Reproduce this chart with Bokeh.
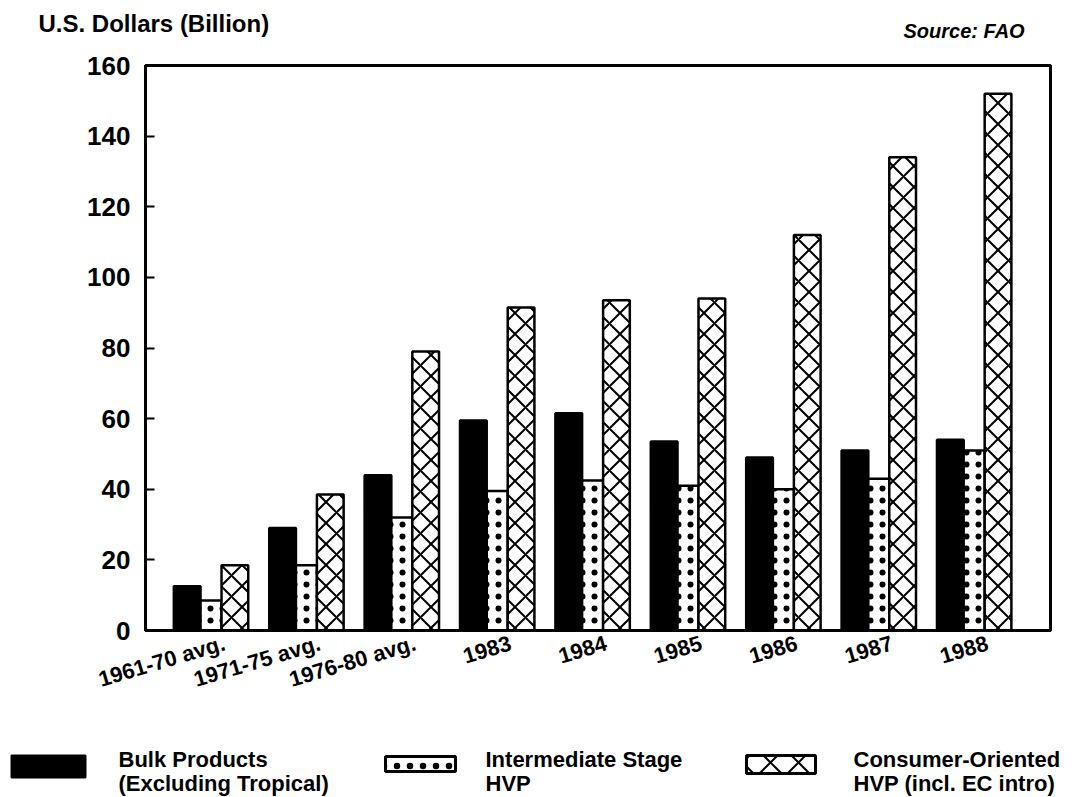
from bokeh.plotting import figure
from bokeh.models import Range1d, FixedTicker
from bokeh.core.properties import value
from bokeh.embed import file_html
from bokeh.resources import INLINE

# ---- data ----
categories = ["1961-70 avg.", "1971-75 avg.", "1976-80 avg.", "1983", "1984",
              "1985", "1986", "1987", "1988"]
bulk = [12.5, 29, 44, 59.5, 61.5, 53.5, 49, 51, 54]
intermediate = [8.5, 18.5, 32, 39.5, 42.5, 41, 40, 43, 51]
consumer = [18.5, 38.5, 79, 91.5, 93.5, 94, 112, 134, 152]
y_ticks = [0, 20, 40, 60, 80, 100, 120, 140, 160]
legend_bulk = ["Bulk Products", "(Excluding Tropical)"]
legend_inter = ["Intermediate Stage", "HVP"]
legend_cons = ["Consumer-Oriented", "HVP (incl. EC intro)"]
y_title = "U.S. Dollars (Billion)"
source_note = "Source: FAO"

FONT = "Liberation Sans"
W = 1092
BL, BR = 145, 42          # left / right border of the plotting frame


def strip(height):
    f = figure(width=W, height=height, x_range=Range1d(0, W),
               y_range=Range1d(height, 0), x_axis_location=None, y_axis_location=None,
               output_backend="svg", toolbar_location=None, min_border=0)
    f.grid.visible = False
    f.outline_line_color = None
    return f


# ---- header ----
hdr = strip(50)
hdr.text(x=[38], y=[23], text=[y_title], text_font=value(FONT), text_font_size="24px",
         text_font_style="bold", text_baseline="middle", text_color="black")
hdr.text(x=[903], y=[30], text=[source_note], text_font=value(FONT), text_font_size="20px",
         text_font_style="bold italic", text_baseline="middle", text_color="black")

# ---- main chart ----
idx = list(range(len(categories)))
p = figure(width=W, height=670, x_range=Range1d(-0.687, 8.80), y_range=Range1d(0, 160),
           output_backend="svg", toolbar_location=None,
           min_border_left=BL, min_border_right=BR, min_border_top=15, min_border_bottom=90)
p.grid.visible = False
p.outline_line_color = "black"
p.outline_line_width = 3

p.vbar(x=[i - 0.25 for i in idx], top=bulk, width=0.28, bottom=0,
       fill_color="black", line_color="black", line_width=2.5)
p.vbar(x=idx, top=intermediate, width=0.22, bottom=0,
       fill_color="white", line_color="black", line_width=2.5,
       hatch_pattern="dot", hatch_color="black", hatch_scale=12, hatch_weight=1.5)
p.vbar(x=[i + 0.25 for i in idx], top=consumer, width=0.28, bottom=0,
       fill_color="white", line_color="black", line_width=2.5,
       hatch_pattern="diagonal_cross", hatch_color="black", hatch_scale=21, hatch_weight=2)

label_ticks = [i + 0.14 for i in idx]
xa = p.xaxis[0]
xa.ticker = FixedTicker(ticks=label_ticks)
xa.major_label_overrides = {t: c for t, c in zip(label_ticks, categories)}
xa.major_tick_line_color = None
xa.minor_tick_line_color = None
xa.axis_line_width = 3
xa.major_label_orientation = 0.29
xa.major_label_text_font = FONT
xa.major_label_text_font_size = "22px"
xa.major_label_text_font_style = "bold"
xa.major_label_text_color = "black"
xa.major_label_standoff = 6

ya = p.yaxis[0]
ya.ticker = FixedTicker(ticks=y_ticks)
ya.major_tick_in = 9
ya.major_tick_out = 0
ya.major_tick_line_width = 2
ya.minor_tick_line_color = None
ya.axis_line_width = 3
ya.major_label_text_font = FONT
ya.major_label_text_font_size = "26px"
ya.major_label_text_font_style = "bold"
ya.major_label_text_color = "black"
ya.major_label_standoff = 15

# ---- legend strip ----
lg = strip(77)
lg.quad(left=[11], right=[85], top=[35], bottom=[57], fill_color="black",
        line_color="black", line_width=2)
lg.quad(left=[385], right=[455], top=[36], bottom=[51], fill_color="white",
        line_color="black", line_width=3, hatch_pattern="dot", hatch_color="black",
        hatch_scale=13, hatch_weight=1.5)
lg.quad(left=[746], right=[815], top=[35], bottom=[53], fill_color="white",
        line_color="black", line_width=3, hatch_pattern="diagonal_cross",
        hatch_color="black", hatch_scale=28, hatch_weight=2)
for xpos, lines in [(118, legend_bulk), (485, legend_inter), (853, legend_cons)]:
    lg.text(x=[xpos, xpos], y=[39, 63], text=lines, text_font=value(FONT),
            text_font_size="22px", text_font_style="bold", text_baseline="alphabetic",
            text_color="black")

open("out.html", "w").write(file_html([hdr, p, lg], INLINE))
